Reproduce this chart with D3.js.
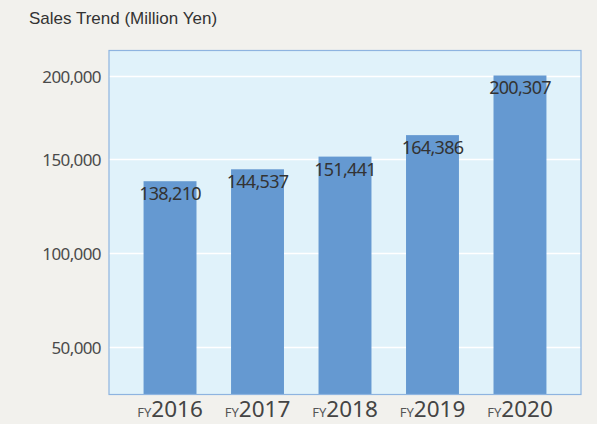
<!DOCTYPE html>
<html><head><meta charset="utf-8">
<script src="https://cdn.jsdelivr.net/npm/d3@7"></script>
<style>
html,body{margin:0;padding:0;background:#f2f1ed;}
svg{display:block;}
</style></head>
<body>
<svg id="chart" width="597" height="424"></svg>
<script>
const categories = ["2016","2017","2018","2019","2020"];
const categoryPrefix = "FY";
const sales = [138210, 144537, 151441, 164386, 200307];
const yTicks = [50000, 100000, 150000, 200000];
const title = "Sales Trend (Million Yen)";

const svg = d3.select("#chart");
const W = 597, H = 424;
const plot = {left:109, top:50.5, right:581, bottom:394.5};

svg.append("rect").attr("width",W).attr("height",H).attr("fill","#f2f1ed");

svg.append("text").attr("x",29).attr("y",24)
  .attr("font-family","Liberation Sans, Arial, sans-serif").attr("font-size",17)
  .attr("fill","#333").text(title);

// y scale (reference axis is compressed above 150,000)
const y = d3.scaleLinear().domain([25000,150000,200000]).range([plot.bottom, 159, 76]);
const x = d3.scaleBand().domain(categories).range([plot.left, plot.right]).paddingInner(0.395).paddingOuter(0.395);

svg.append("rect").attr("x",plot.left).attr("y",plot.top)
  .attr("width",plot.right-plot.left).attr("height",plot.bottom-plot.top)
  .attr("fill","#e0f2fa");

// gridlines
svg.append("g").selectAll("line").data(yTicks).join("line")
  .attr("x1",plot.left).attr("x2",plot.right)
  .attr("y1",d=>Math.round(y(d))+0.5).attr("y2",d=>Math.round(y(d))+0.5)
  .attr("stroke","#ffffff").attr("stroke-width",1.5);

// bars
svg.append("g").selectAll("rect").data(sales).join("rect")
  .attr("x",(d,i)=>x(categories[i]))
  .attr("width",x.bandwidth())
  .attr("y",d=>y(d))
  .attr("height",d=>plot.bottom-y(d))
  .attr("fill","#6599d1");

// border
svg.append("rect").attr("x",plot.left).attr("y",plot.top)
  .attr("width",plot.right-plot.left).attr("height",plot.bottom-plot.top)
  .attr("fill","none").attr("stroke","#8eb4e0").attr("stroke-width",1.2);

// y axis labels
const yAxis = d3.axisLeft(y).tickValues(yTicks).tickSize(0).tickPadding(8)
  .tickFormat(d3.format(","));
const ga = svg.append("g").attr("transform",`translate(${plot.left},0)`).call(yAxis);
ga.select(".domain").remove();
ga.selectAll("text").attr("font-family","Noto Sans, sans-serif").attr("font-size",17)
  .attr("letter-spacing","-0.6").attr("fill","#4a4a4a").attr("dy","0.36em");

// value labels
svg.append("g").selectAll("text").data(sales).join("text")
  .attr("x",(d,i)=>x(categories[i])+x.bandwidth()/2)
  .attr("y",d=>y(d)+19)
  .attr("text-anchor","middle")
  .attr("font-family","Noto Sans, sans-serif").attr("font-size",18)
  .attr("letter-spacing","-0.7").attr("fill","#333")
  .text(d=>d3.format(",")(d));

// x labels
const xl = svg.append("g").selectAll("text").data(categories).join("text")
  .attr("x",d=>x(d)+x.bandwidth()/2)
  .attr("y",416.5)
  .attr("text-anchor","middle")
  .attr("font-family","Noto Sans, sans-serif").attr("fill","#444");
xl.append("tspan").attr("font-size",13).attr("fill","#555").text(categoryPrefix);
xl.append("tspan").attr("font-size",22.5).text(d=>d);
</script>
</body></html>
